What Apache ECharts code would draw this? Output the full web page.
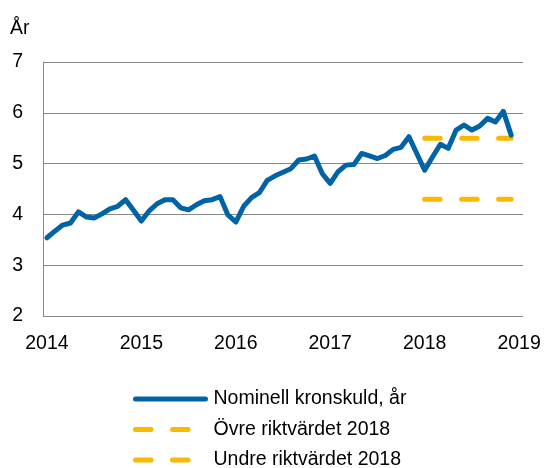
<!DOCTYPE html>
<html>
<head>
<meta charset="utf-8">
<script src="https://cdn.jsdelivr.net/npm/echarts@6/dist/echarts.min.js"></script>
<style>
  html, body { margin: 0; padding: 0; background: #fff; }
  #chart { width: 545px; height: 468px; }
</style>
</head>
<body>
<div id="chart"></div>
<script>
// månader jan 2014 - jan 2019 (sista kategorin bara för etiketten 2019)
const months = []
for (let y = 2014; y <= 2019; y++) {
  for (let m = 1; m <= 12; m++) {
    if (y === 2019 && m > 1) break
    months.push(y + '-' + (m < 10 ? '0' + m : m))
  }
}

// Nominell kronskuld, år (jan 2014 - dec 2018)
const kronskuld = [
  3.54, 3.67, 3.79, 3.83, 4.05, 3.95, 3.93, 4.01, 4.11, 4.16, 4.29, 4.08,
  3.87, 4.07, 4.21, 4.29, 4.29, 4.13, 4.09, 4.19, 4.27, 4.29, 4.35, 3.99,
  3.85, 4.16, 4.33, 4.43, 4.67, 4.76, 4.83, 4.90, 5.07, 5.09, 5.15, 4.80,
  4.61, 4.84, 4.97, 4.98, 5.20, 5.15, 5.10, 5.16, 5.28, 5.32, 5.53, 5.20,
  4.87, 5.13, 5.38, 5.30, 5.66, 5.76, 5.66, 5.74, 5.89, 5.82, 6.03, 5.56
]

// riktvärden 2018 (jan - dec 2018)
const ovreRiktvarde = [5.5, 5.5, 5.5, 5.5, 5.5, 5.5, 5.5, 5.5, 5.5, 5.5, 5.5, 5.5]
const undreRiktvarde = [4.3, 4.3, 4.3, 4.3, 4.3, 4.3, 4.3, 4.3, 4.3, 4.3, 4.3, 4.3]

const yTicks = [2, 3, 4, 5, 6, 7]

const blue = '#0063a5'
const yellow = '#fbb800'
const font = "'Liberation Sans', Arial, Helvetica, sans-serif"
const fs = 19.5

// lägg riktvärdena på 2018 års månader
function from2018 (vals) {
  const start = months.indexOf('2018-01')
  return months.map((m, i) => (i >= start && i - start < vals.length ? vals[i - start] : null))
}

const myChart = echarts.init(document.getElementById('chart'))

const option = {
  animation: false,
  title: {
    text: 'År',
    left: 10,
    top: 19,
    padding: 0,
    textStyle: { fontFamily: font, fontSize: fs, fontWeight: 'normal', color: '#000' }
  },
  grid: { left: 43, right: 22, top: 62, bottom: 152 },
  xAxis: {
    type: 'category',
    data: months,
    boundaryGap: true,
    axisLine: { show: false },
    axisTick: { show: false },
    axisLabel: {
      interval: 11,
      margin: 18,
      fontFamily: font,
      fontSize: fs,
      color: '#000',
      formatter: v => v.slice(0, 4)
    },
    splitLine: { show: false }
  },
  yAxis: {
    type: 'value',
    min: yTicks[0],
    max: yTicks[yTicks.length - 1],
    interval: 1,
    axisLine: { show: true, lineStyle: { color: '#888', width: 1 } },
    axisTick: { show: false },
    axisLabel: { margin: 20, fontFamily: font, fontSize: fs, color: '#000' },
    splitLine: { show: true, lineStyle: { color: '#888', width: 1 } }
  },
  legend: {
    orient: 'vertical',
    left: 133,
    top: 389,
    height: 100,
    padding: 0,
    itemWidth: 70,
    itemHeight: 14,
    itemGap: 10.5,
    itemStyle: { opacity: 0 },
    lineStyle: { width: 5, cap: 'round' },
    textStyle: { fontFamily: font, fontSize: fs, color: '#000', lineHeight: 20, padding: [0, 0, 0, 3] },
    data: ['Nominell kronskuld, år', 'Övre riktvärdet 2018', 'Undre riktvärdet 2018']
  },
  series: [
    {
      name: 'Nominell kronskuld, år',
      type: 'line',
      data: kronskuld,
      symbol: 'none',
      lineStyle: { color: blue, width: 5, join: 'round', cap: 'round' },
      itemStyle: { color: blue },
      z: 3
    },
    {
      name: 'Övre riktvärdet 2018',
      type: 'line',
      data: from2018(ovreRiktvarde),
      symbol: 'none',
      lineStyle: { color: yellow, width: 5, type: [15.5, 21.5], cap: 'round' },
      itemStyle: { color: yellow },
      z: 2
    },
    {
      name: 'Undre riktvärdet 2018',
      type: 'line',
      data: from2018(undreRiktvarde),
      symbol: 'none',
      lineStyle: { color: yellow, width: 5, type: [15.5, 21.5], cap: 'round' },
      itemStyle: { color: yellow },
      z: 2
    }
  ]
}

myChart.setOption(option)
</script>
</body>
</html>
